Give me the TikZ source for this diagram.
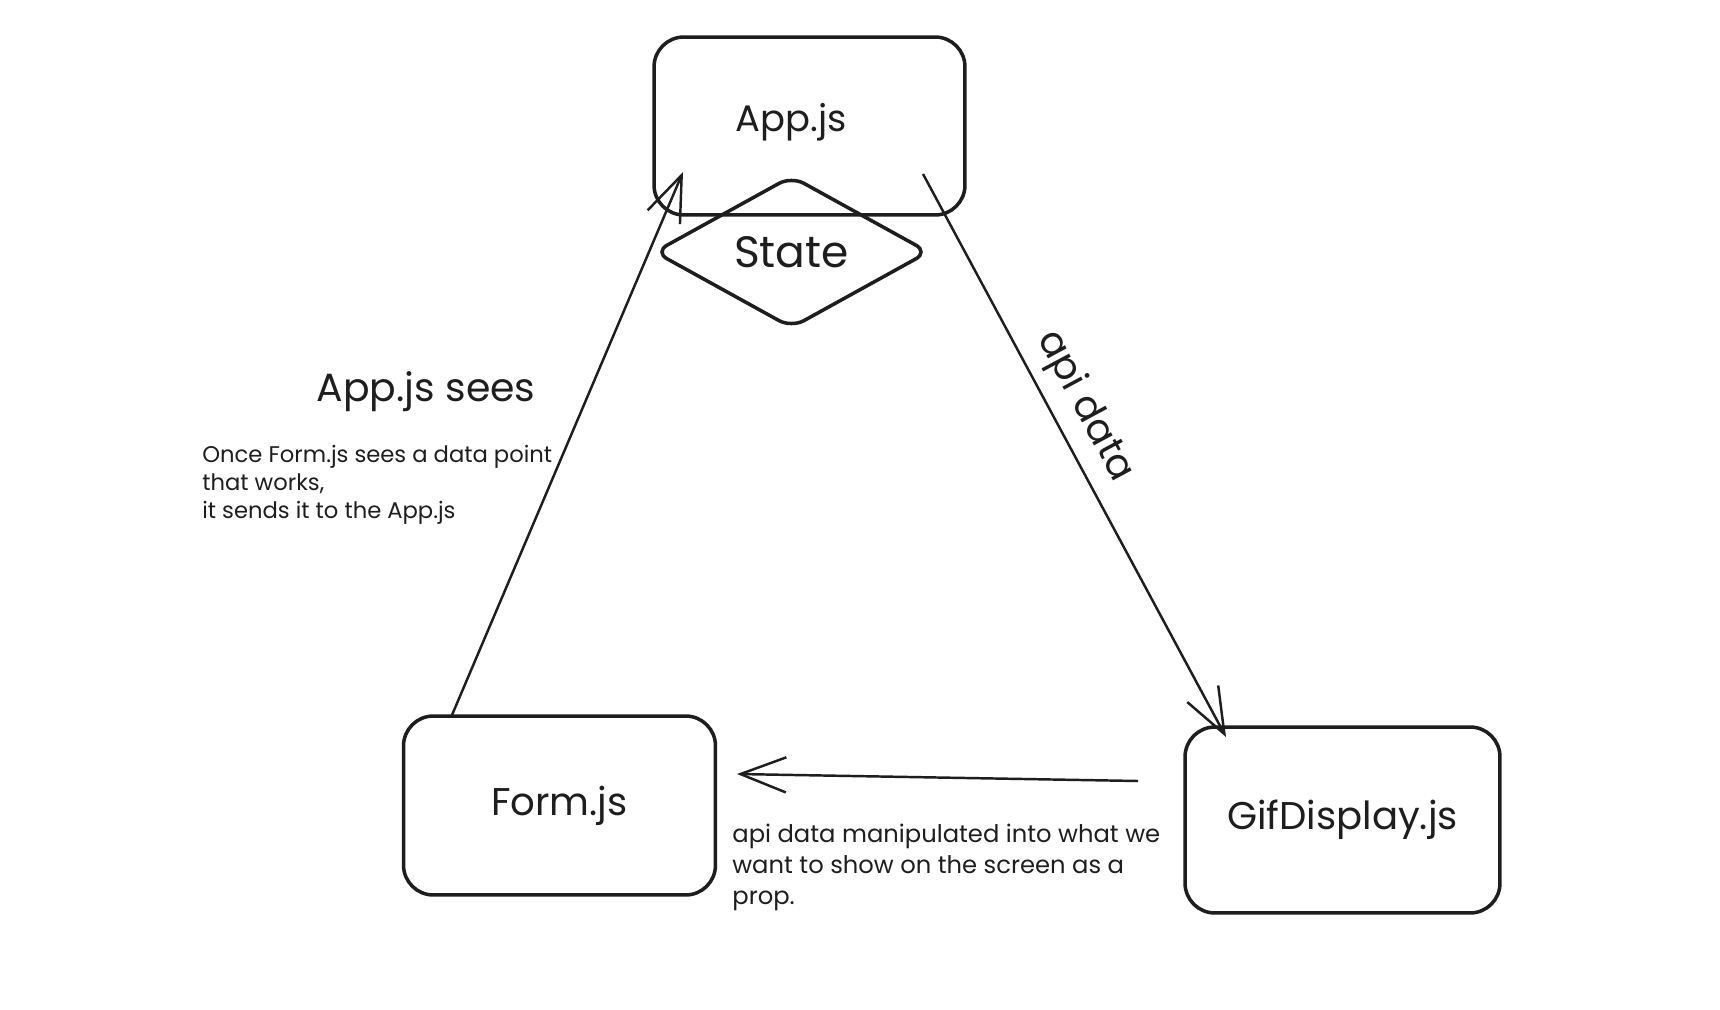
\documentclass[tikz,border=0pt]{standalone}
\usepackage{fontspec}
\setmainfont{Poppins}
\usetikzlibrary{arrows.meta,shapes.geometric}
\definecolor{ink}{HTML}{1E1E1E}
\tikzset{
  compbox/.style={draw=ink,line width=2pt,rounded corners=17pt,inner sep=0pt,text=ink,font=\fontsize{22}{26}\selectfont},
  statebox/.style={diamond,draw=ink,line width=2pt,rounded corners=8pt,inner sep=0pt,text=ink,font=\fontsize{25}{28}\selectfont},
  arr/.style={draw=ink,line width=1.4pt,-{Straight Barb[length=26pt,width=20pt,line width=1.4pt]}},
  note/.style={text=ink,align=left,anchor=west,inner sep=0pt}
}
\begin{document}
\begin{tikzpicture}[x=0.02cm,y=-0.02cm]
\useasboundingbox[fill=white] (0,0) rectangle (1720,1010);
\node[compbox,minimum width=6.22cm,minimum height=3.56cm] (app) at (809.5,126) {};
\node[text=ink,font=\fontsize{21}{26}\selectfont] (applabel) at (791,122) {App.js};
\node[statebox,minimum width=5.5cm,minimum height=3.05cm] (state) at (791.5,252) {State};
\node[compbox,minimum width=6.24cm,minimum height=3.58cm] (form) at (559.5,805.5) {Form.js};
\node[compbox,minimum width=6.3cm,minimum height=3.72cm] (gif) at (1342.5,820) {GifDisplay.js};
\coordinate (form-out) at (452,715);
\coordinate (app-in) at (683,172);
\coordinate (app-out) at (923,174);
\coordinate (gif-in) at (1226,737);
\coordinate (gif-out) at (1138,781);
\coordinate (form-in) at (737,774);
\draw[arr] (form-out) -- (app-in);
\draw[arr] (app-out) -- node[pos=0.44,sloped,above=3pt,text=ink,font=\fontsize{22}{26}\selectfont] (apilabel) {api data} (gif-in);
\draw[arr] (gif-out) -- (form-in);
\node[text=ink,font=\fontsize{22.4}{26}\selectfont] (sees) at (426,392) {App.js sees};
\node[note,font=\fontsize{12.9}{15.9}\selectfont] (formnote) at (202,485) {Once Form.js sees a data point\\that works,\\it sends it to the App.js};
\node[note,font=\fontsize{13.8}{17.6}\selectfont] (gifnote) at (732,867) {api data manipulated into what we\\want to show on the screen as a\\prop.};
\end{tikzpicture}
\end{document}
